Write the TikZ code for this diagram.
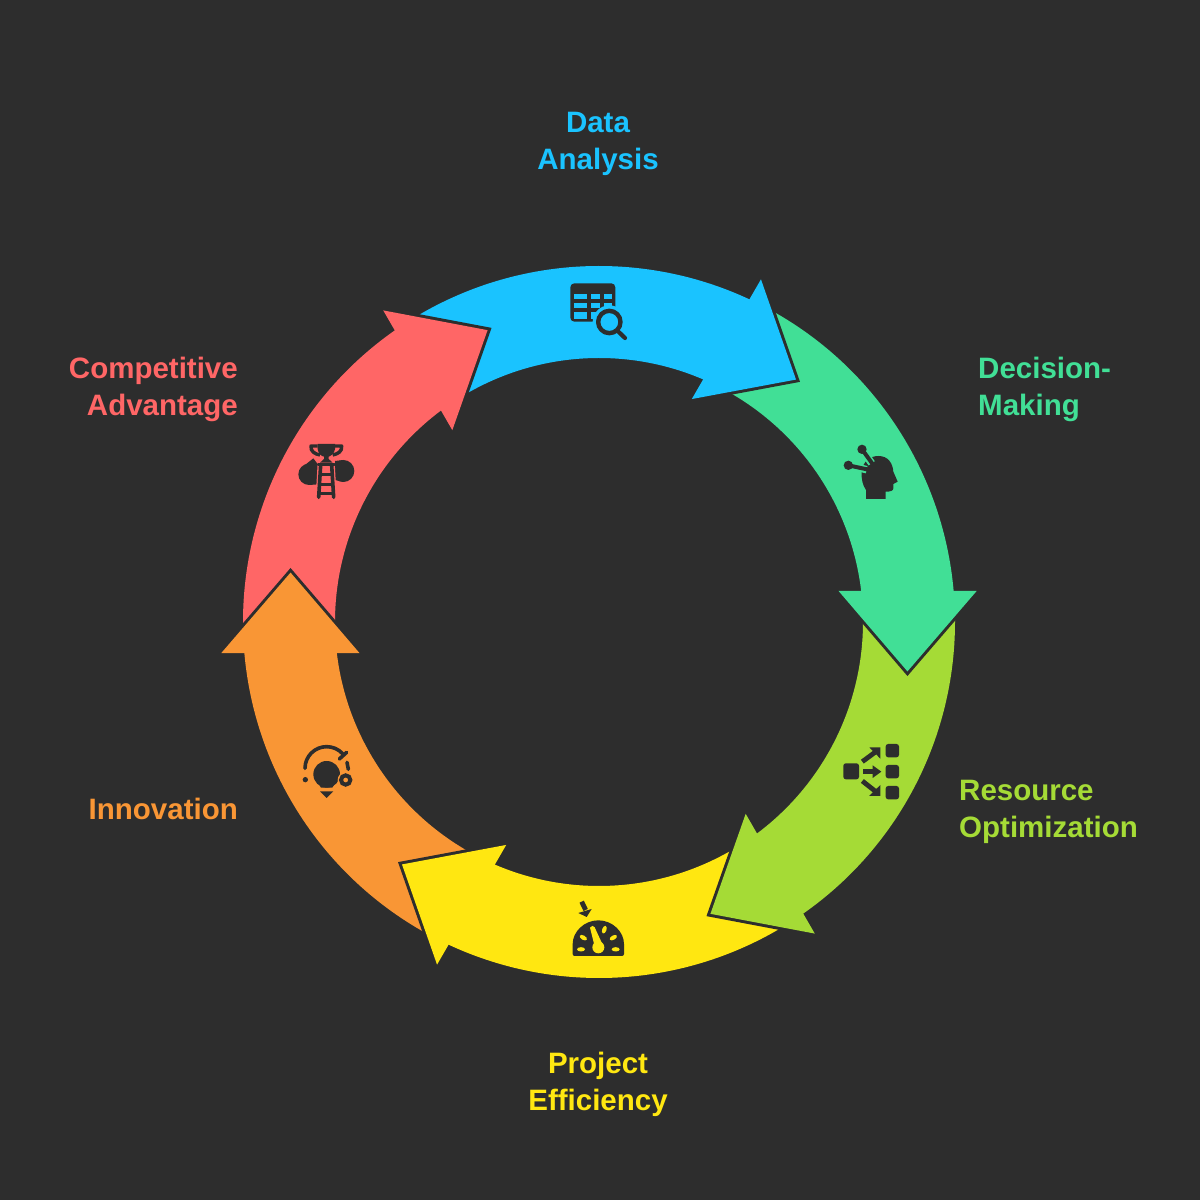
\documentclass[tikz,border=0pt]{standalone}
\usepackage{fontspec}
\setmainfont{Liberation Sans}
\definecolor{bgc}{HTML}{2D2D2D}
\definecolor{cblue}{HTML}{1AC3FF}
\definecolor{cgreen}{HTML}{41DF96}
\definecolor{clime}{HTML}{A5DB36}
\definecolor{cyellow}{HTML}{FFE711}
\definecolor{corange}{HTML}{F99635}
\definecolor{cred}{HTML}{FF6666}
\tikzset{
  ringpart/.style={shift={(599,578)},rotate=#1},
  zoomed/.style 2 args={shift={(#1,1200-#2)},x=0.33333pt,y=-0.33333pt},
  lab/.style={font=\fontsize{29.5}{37}\selectfont\bfseries,inner sep=0pt},
  inkline/.style={draw=bgc,line cap=round,line join=round,line width=#1},
}
\newcommand{\bodypath}{(122:356) arc[start angle=122,end angle=62,radius=356]
  -- (62:264) arc[start angle=62,end angle=122,radius=264] -- cycle}
\begin{document}
\begin{tikzpicture}[x=1pt,y=1pt]
\fill[bgc] (0,0) rectangle (1200,1200);
\useasboundingbox (0,0) rectangle (1200,1200);
% arrow bodies
\foreach \n/\c in {0/cblue,1/cgreen,2/clime,3/cyellow,4/corange,5/cred}{
  \begin{scope}[ringpart=-60*\n]
    \fill[\c] \bodypath;
  \end{scope}
}
% arrow heads, each over the tail of the next arrow
\foreach \n/\c in {0/cblue,1/cgreen,2/clime,3/cyellow,4/corange,5/cred}{
  \begin{scope}[ringpart=-60*\n]
    \draw[bgc,line width=6pt,line join=miter] (64.7:379) -- (50.9:312.4) -- (67.4:241.5);
    \fill[\c] (64.7:379) -- (50.9:312.4) -- (67.4:241.5) -- cycle;
  \end{scope}
}
% labels
\node[lab,text=cblue,align=center,anchor=center] (ldata) at (598,1200-144) {Data\\Analysis};
\node[lab,text=cgreen,align=left,anchor=west] (ldecision) at (978,1200-389) {Decision-\\Making};
\node[lab,text=clime,align=left,anchor=west] (lresource) at (959,1200-812) {Resource\\Optimization};
\node[lab,text=cyellow,align=center,anchor=center] (lproject) at (598,1200-1084) {Project\\Efficiency};
\node[lab,text=corange,align=right,anchor=east] (linnov) at (238,1200-809) {Innovation};
\node[lab,text=cred,align=right,anchor=east] (lcomp) at (238,1200-389) {Competitive\\Advantage};
% table and magnifier icon
\begin{scope}[zoomed={380}{250}]
  \fill[bgc,rounded corners=4pt] (571,100) rectangle (706,215);
  \foreach \xa/\xb in {583/620,632/660,671/696}{
    \foreach \ya/\yb in {131/148,158/175,187/206}{
      \fill[cblue] (\xa,\ya) rectangle (\xb,\yb);
    }
  }
  \fill[cblue] (688,216) circle[radius=50];
  \draw[inkline=4.4pt] (688,216) circle[radius=33.5];
  \draw[inkline=4.2pt] (713,243) -- (735,264);
\end{scope}
% head icon
\begin{scope}[zoomed={820}{430}]
  \fill[bgc] (138,207) -- (138,180) .. controls (128,165) and (124,150) .. (125,125)
    .. controls (128,95) and (150,78) .. (175,78)
    .. controls (205,78) and (218,100) .. (220,125)
    -- (233,155) -- (220,162) -- (220,175) .. controls (220,183) and (210,185) .. (197,185) -- (197,207) -- cycle;
  \draw[cgreen,line width=7.5pt] (126,58) -- (155,100);
  \draw[cgreen,line width=7.5pt] (85,106) -- (140,119);
  \draw[bgc,line width=4pt] (126,58) -- (165,112);
  \draw[bgc,line width=4pt] (85,106) -- (150,120);
  \fill[bgc] (126,58) circle[radius=14];
  \fill[bgc] (85,106) circle[radius=14];
\end{scope}
% flow icon
\begin{scope}[zoomed={830}{730}]
  \fill[bgc,rounded corners=2.5pt] (40,100) rectangle (87,148);
  \foreach \ya in {42,105,168}{
    \fill[bgc,rounded corners=2.5pt] (167,\ya) rectangle (207,\ya+40);
  }
  \draw[bgc,line width=4.8pt] (100,125) -- (135,125);
  \fill[bgc] (128,106) -- (154,125) -- (128,144) -- cycle;
  \draw[bgc,line width=4.8pt] (97,95) -- (135,67);
  \fill[bgc] (118,52) -- (151,52) -- (151,86) -- cycle;
  \draw[bgc,line width=4.8pt] (97,153) -- (135,183);
  \fill[bgc] (151,165) -- (151,198) -- (117,198) -- cycle;
\end{scope}
% gauge icon
\begin{scope}[zoomed={560}{890}]
  \fill[bgc,rounded corners=2pt] (38,198) -- (38,168) arc[start angle=180,end angle=360,radius=77] -- (192,198) -- cycle;
  \fill[cyellow] (115,172) circle[radius=18];
  \fill[cyellow] (90,113) .. controls (94,106) and (101,106) .. (104,112) -- (127,162) -- (103,165) -- cycle;
  \foreach \x/\y/\a in {63/178/0,70/143/30,133/119/-70,160/143/-30,167/178/0}{
    \fill[cyellow] (\x,\y) ellipse[x radius=12,y radius=6.5,rotate=-\a];
  }
  \draw[bgc,line width=4.8pt] (65,35) -- (77,60);
  \fill[bgc] (55,69) -- (95,57) -- (80,81) -- cycle;
\end{scope}
% bulb icon
\begin{scope}[zoomed={290}{735}]
  \draw[inkline=3.6pt] (45,100) arc[start angle=180,end angle=318,radius=65];
  \draw[inkline=3.6pt] (148,72) -- (170,52);
  \draw[inkline=3.6pt] (171,82) -- (175,103);
  \fill[bgc] (110,118) circle[radius=40];
  \fill[bgc] (85,145) -- (135,145) -- (127,158) -- (93,158) -- cycle;
  \fill[bgc] (90,169) -- (130,169) -- (110,189) -- cycle;
  \fill[bgc] (46,134) circle[radius=8];
  \fill[corange] (167,135) circle[radius=24];
  \draw[bgc,line width=4pt] (167,135) circle[radius=14];
\end{scope}
% trophy and ladder icon
\begin{scope}[zoomed={285}{435}]
  \fill[bgc] (72,118) circle[radius=32];
  \fill[bgc] (60,90) -- (85,70) -- (100,90) -- (100,148) -- (72,150) -- cycle;
  \fill[bgc] (175,108) circle[radius=33];
  \fill[bgc] (150,78) -- (175,75) -- (175,141) -- (150,135) -- cycle;
  \draw[cred,line width=6pt] (107,82) -- (101,190);
  \draw[cred,line width=6pt] (140,82) -- (146,190);
  \fill[cred] (104,72) rectangle (145,100);
  \draw[inkline=3.6pt] (107,90) -- (101,187);
  \draw[inkline=3.6pt] (140,90) -- (146,187);
  \draw[inkline=3.6pt] (100,89) -- (148,89);
  \draw[bgc,line width=3.4pt] (106,118) -- (142,118);
  \draw[bgc,line width=3.4pt] (104,148) -- (144,148);
  \draw[bgc,line width=3.4pt] (103,176) -- (145,176);
  \fill[bgc] (98,27) -- (150,27) -- (150,42) .. controls (148,57) and (135,64) .. (131,65) -- (131,72) -- (143,83) -- (105,83) -- (117,72) -- (117,65) .. controls (110,64) and (100,57) .. (98,42) -- cycle;
  \draw[bgc,line width=3.4pt,line join=round] (98,33) -- (78,33) .. controls (76,50) and (90,57) .. (105,60);
  \draw[bgc,line width=3.4pt,line join=round] (150,33) -- (170,33) .. controls (172,50) and (158,57) .. (143,60);
\end{scope}
\end{tikzpicture}
\end{document}
